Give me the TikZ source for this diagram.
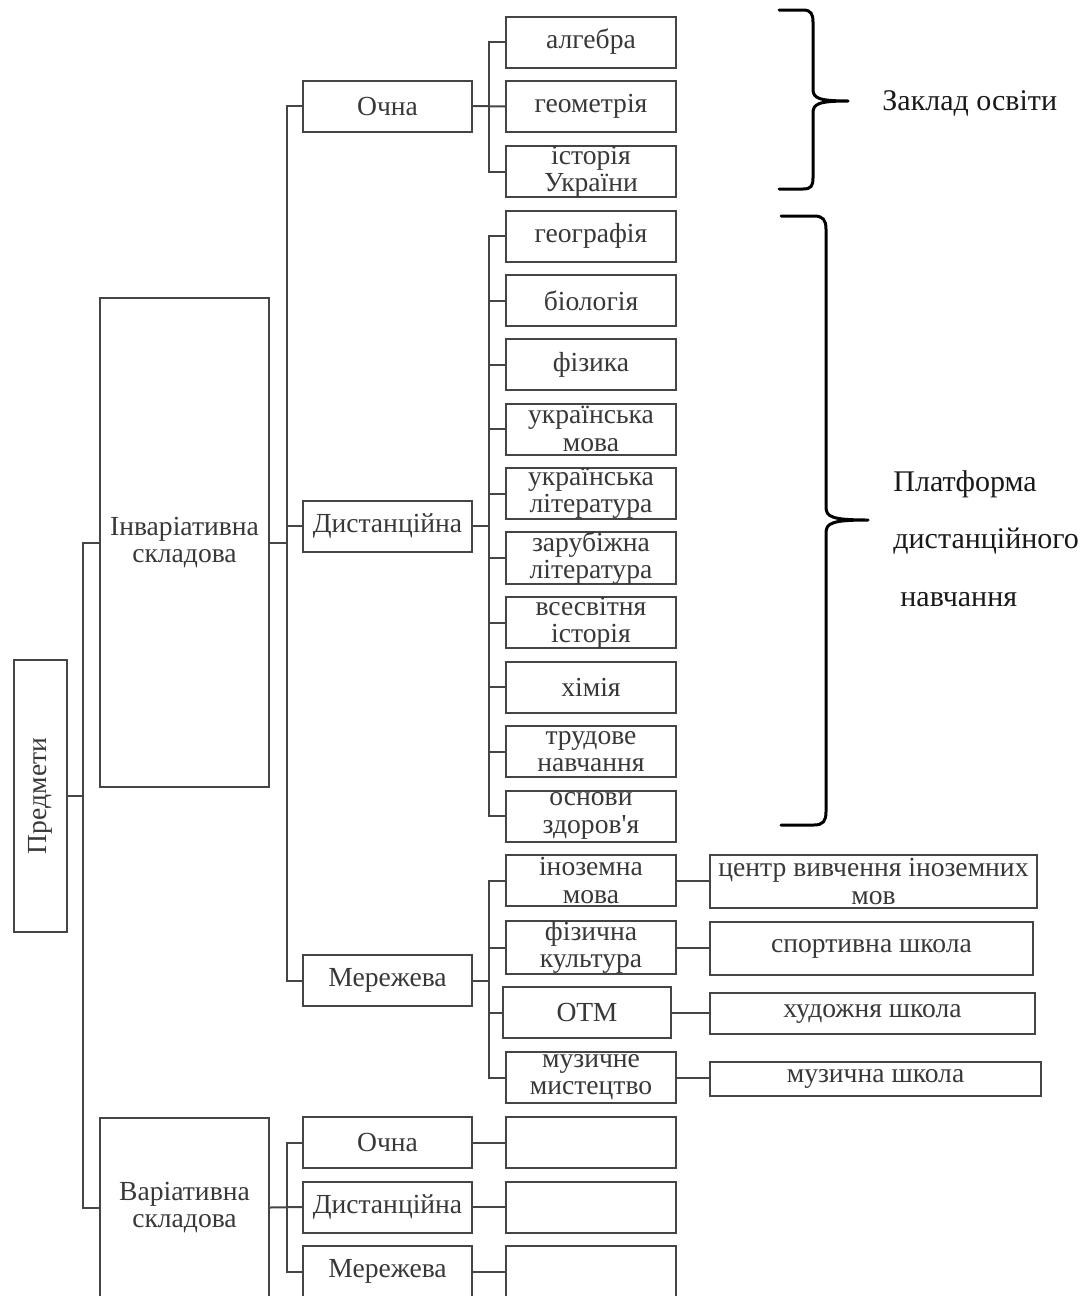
\documentclass[tikz,border=0pt]{standalone}
\usepackage{fontspec}
\setmainfont{Liberation Serif}[Ligatures=TeXOff]
\definecolor{boxc}{HTML}{454545}
\definecolor{txtc}{HTML}{383838}
\begin{document}
\begin{tikzpicture}[x=0.5pt,y=-0.5pt,
  bx/.style={draw=boxc, line width=1pt, rectangle, inner sep=0pt, align=center,
     text=txtc, font=\fontsize{13.8}{13.6}\selectfont},
  lv2/.style={bx, minimum width=84.5pt, minimum height=25.5pt},
  subj/.style={bx, minimum width=85pt, minimum height=25.5pt},
  ln/.style={draw=boxc, line width=1pt},
  brc/.style={draw=black, line width=1.5pt, line cap=round, line join=round},
  side/.style={anchor=west, inner sep=0pt, text=black!90, font=\fontsize{15}{16}\selectfont}]
\useasboundingbox (0,0) rectangle (1086,1296);
% bus coordinates
\coordinate (b0x) at (83,0);
\coordinate (b1x) at (287,0);
\coordinate (b2x) at (489,0);
% level 0/1
\node[bx, minimum width=26.5pt, minimum height=136pt] (pred) at (40.5,796) {\rotatebox{90}{Предмети}};
\node[bx, minimum width=84.5pt, minimum height=244.5pt] (inv) at (184.5,542.5) {Інваріативна\\складова};
\node[bx, minimum width=84.5pt, minimum height=89.5pt] (var) at (184.5,1207.5) {Варіативна\\складова};
% level 2
\node[lv2] (och1) at (387.5,106) {Очна};
\node[lv2] (dis1) at (387.5,526) {Дистанційна};
\node[lv2] (mer1) at (387.5,980.5) {Мережева};
\node[lv2] (och2) at (387.5,1142.5) {Очна};
\node[lv2] (dis2) at (387.5,1207) {Дистанційна};
\node[lv2] (mer2) at (387.5,1271.5) {Мережева};
% subjects
\node[subj] (s1) at (591,42) {алгебра};
\node[subj] (s2) at (591,106.5) {геометрія};
\node[subj] (s3) at (591,171.5) {історія\\України};
\node[subj] (s4) at (591,236) {географія};
\node[subj] (s5) at (591,300.5) {біологія};
\node[subj] (s6) at (591,364.5) {фізика};
\node[subj] (s7) at (591,429) {українська\\мова};
\node[subj] (s8) at (591,493.5) {українська\\література};
\node[subj] (s9) at (591,558) {зарубіжна\\література};
\node[subj] (s10) at (591,622.5) {всесвітня\\історія};
\node[subj] (s11) at (591,687) {хімія};
\node[subj] (s12) at (591,751.5) {трудове\\навчання};
\node[subj] (s13) at (591,816) {основи\\здоров'я};
\node[subj] (s14) at (591,880.5) {іноземна\\мова};
\node[subj] (s15) at (591,947.5) {фізична\\культура};
\node[bx, minimum width=84pt, minimum height=25.5pt] (s16) at (587,1012.5) {ОТМ};
\node[subj] (s17) at (591,1077.5) {музичне\\мистецтво};
\node[subj] (e1) at (591,1142.5) {};
\node[subj] (e2) at (591,1207) {};
\node[subj] (e3) at (591,1271.5) {};
% right boxes
\node[bx, minimum width=163.5pt, minimum height=26.5pt] (r1) at (873.5,881.5) {центр вивчення іноземних\\мов};
\node[bx, minimum width=161.5pt, minimum height=26.5pt] (r2) at (871.5,948.5) {спортивна школа};
\node[bx, minimum width=162.5pt, minimum height=20.5pt] (r3) at (872.5,1013.5) {художня школа};
\node[bx, minimum width=165.5pt, minimum height=17pt] (r4) at (875.5,1079) {музична школа};
% connectors level 0
\draw[ln] (inv.west) -- (inv.west -| b0x) |- (var.west);
\draw[ln] (pred.east) -- (pred.east -| b0x);
% level 1 -> 2 (invariant)
\draw[ln] (och1.west) -- (och1.west -| b1x) |- (mer1.west);
\draw[ln] (inv.east) -- (inv.east -| b1x);
\draw[ln] (dis1.west) -- (dis1.west -| b1x);
% level 1 -> 2 (variative)
\draw[ln] (och2.west) -- (och2.west -| b1x) |- (mer2.west);
\draw[ln] (var.east) -- (dis2.west);
\draw[ln] (och2.east) -- (e1.west);
\draw[ln] (dis2.east) -- (e2.west);
\draw[ln] (mer2.east) -- (e3.west);
% Очна group
\draw[ln] (s1.west) -- (s1.west -| b2x) |- (s3.west);
\draw[ln] (och1.east) -- (s2.west);
% Дистанційна group
\draw[ln] (s4.west) -- (s4.west -| b2x) |- (s13.west);
\draw[ln] (dis1.east) -- (dis1.east -| b2x);
\foreach \s in {s5,s6,s7,s8,s9,s10,s11,s12}
  \draw[ln] (\s.west) -- (\s.west -| b2x);
% Мережева group
\draw[ln] (s14.west) -- (s14.west -| b2x) |- (s17.west);
\draw[ln] (mer1.east) -- (mer1.east -| b2x);
\draw[ln] (s15.west) -- (s15.west -| b2x);
\draw[ln] (s16.west) -- (s16.west -| b2x);
\draw[ln] (s14.east) -- (s14.east -| r1.west);
\draw[ln] (s15.east) -- (s15.east -| r2.west);
\draw[ln] (s16.east) -- (s16.east -| r3.west);
\draw[ln] (s17.east) -- (s17.east -| r4.west);
% braces
\draw[brc] (779,10) -- (803,10) .. controls (811,10) and (813,14) .. (813,22)
  -- (813,89) .. controls (813,98) and (818,101) .. (848,101)
  .. controls (818,101) and (813,104) .. (813,113)
  -- (813,178) .. controls (813,186) and (811,189) .. (803,189) -- (779,189);
\draw[brc] (781,216) -- (814,216) .. controls (823,216) and (826,220) .. (826,229)
  -- (826,507) .. controls (826,517) and (832,520) .. (868,520)
  .. controls (832,520) and (826,523) .. (826,533)
  -- (826,812) .. controls (826,821) and (823,825) .. (814,825) -- (781,825);
% side labels
\node[side] (lab1) at (882,103) {Заклад освіти};
\node[side] (lab2) at (893,484) {Платформа};
\node[side] (lab3) at (893,541) {дистанційного};
\node[side] (lab4) at (900,600) {навчання};
\end{tikzpicture}
\end{document}
